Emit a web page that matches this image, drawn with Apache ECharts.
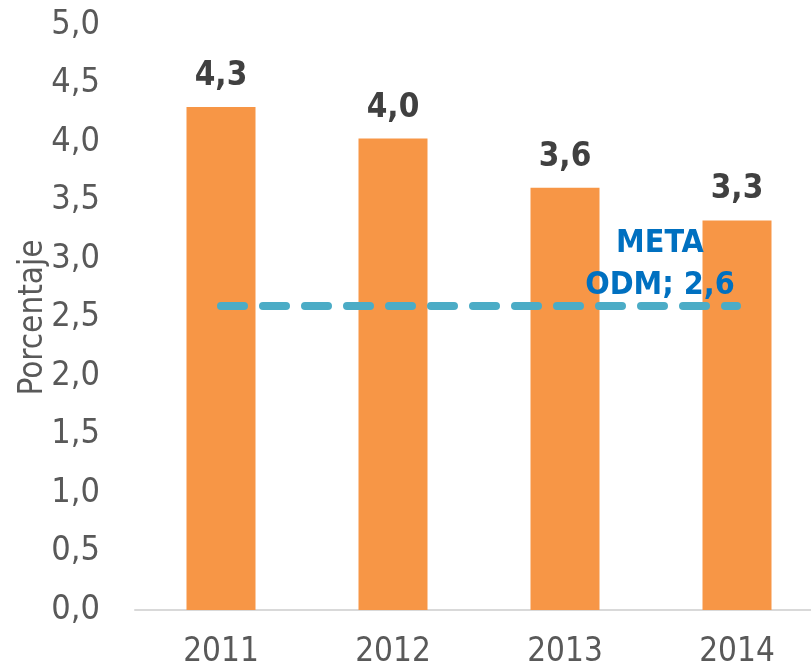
<!DOCTYPE html>
<html lang="es">
<head>
  <meta charset="UTF-8">
  <title>Porcentaje</title>
  <script src="https://cdn.jsdelivr.net/npm/echarts@6.0.0/dist/echarts.min.js"></script>
  <style>
    html, body { margin: 0; padding: 0; background: #fff; }
    #main { width: 811px; height: 670px; }
  </style>
</head>
<body>
  <div id="main"></div>
  <script>
    var years = ['2011', '2012', '2013', '2014']
    var values = [4.3, 4.03, 3.61, 3.33]
    var labels = ['4,3', '4,0', '3,6', '3,3']
    var meta = 2.6
    var metaText = 'META\nODM; 2,6'

    var font = "'Liberation Sans Narrow', 'Arial Narrow', 'DejaVu Sans Condensed', sans-serif"
    var fmt = v => v.toFixed(1).replace('.', ',')

    var myChart = echarts.init(document.getElementById('main'))
    var option = {
      animation: false,
      grid: { left: 135, top: 25, bottom: 60, width: 688, outerBoundsMode: 'none' },
      xAxis: {
        type: 'category',
        data: years,
        axisTick: { show: false },
        axisLine: { lineStyle: { color: '#D9D9D9', width: 2 } },
        axisLabel: { color: '#595959', fontSize: 33, fontFamily: font, margin: 26 }
      },
      yAxis: {
        type: 'value',
        min: 0,
        max: 5,
        interval: 0.5,
        name: 'Porcentaje',
        nameLocation: 'middle',
        nameGap: 85,
        nameMoveOverlap: false,
        nameTextStyle: { color: '#595959', fontSize: 33, fontFamily: font },
        axisLine: { show: false },
        axisTick: { show: false },
        splitLine: { show: false },
        axisLabel: { color: '#595959', fontSize: 34, fontFamily: font, margin: 35, formatter: fmt }
      },
      series: [
        {
          type: 'bar',
          data: values,
          barWidth: 69,
          itemStyle: { color: '#F79646' },
          label: {
            show: true,
            position: 'top',
            distance: 14,
            color: '#404040',
            fontWeight: 'bold',
            fontSize: 33,
            fontFamily: font,
            formatter: p => labels[p.dataIndex]
          },
          markLine: {
            silent: true,
            symbol: 'none',
            label: { show: false },
            lineStyle: { color: '#4BACC6', width: 8, type: [23, 19], cap: 'round' },
            data: [[{ coord: [years[0], meta] }, { coord: [years[3], meta] }]]
          },
          markPoint: {
            silent: true,
            symbol: 'circle',
            symbolSize: 0,
            data: [{ coord: [years[3], meta] }],
            label: {
              show: true,
              formatter: metaText,
              color: '#0070C0',
              fontWeight: 'bold',
              fontSize: 32,
              fontFamily: font,
              lineHeight: 42,
              align: 'center',
              offset: [-77, -41]
            }
          }
        }
      ]
    }
    myChart.setOption(option)
  </script>
</body>
</html>
